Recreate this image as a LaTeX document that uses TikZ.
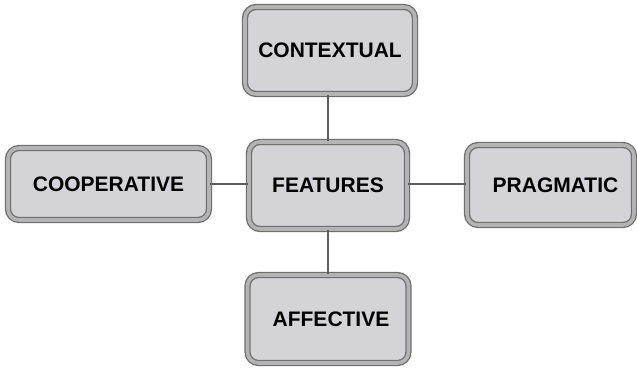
\documentclass[tikz,border=0pt]{standalone}
\usepackage{fontspec}
\setmainfont{Liberation Sans}
\usetikzlibrary{positioning,calc}
\definecolor{boxfill}{HTML}{D4D4D8}
\definecolor{boxedge}{HTML}{6E6E6E}
\definecolor{boxrim}{HTML}{B4B4B4}
\definecolor{linkgray}{HTML}{5E5E5E}

\begin{document}
\begin{tikzpicture}[
  x=1pt,y=-1pt,
  box/.style={
    draw=boxedge,line width=1.3pt,double=boxrim,double distance=3.6pt,
    fill=boxfill,rounded corners=11pt,inner sep=0pt,
    font=\fontsize{21}{25}\selectfont\bfseries
  },
  link/.style={draw=linkgray,line width=2.8pt}
]
\useasboundingbox (0,0) rectangle (637,367);

\node[box,minimum width=170pt,minimum height=87pt] (contextual) at (330,50.5) {CONTEXTUAL};
\node[box,minimum width=201pt,minimum height=72pt] (cooperative) at (108.5,184) {COOPERATIVE};
\node[box,minimum width=158pt,minimum height=87pt] (features) at (328,185.5) {FEATURES};
\node[box,minimum width=167pt,minimum height=80pt] (pragmatic) at (550.5,185) {\hspace*{10pt}PRAGMATIC};
\node[box,minimum width=161pt,minimum height=88pt] (affective) at (328,319) {\hspace*{6pt}AFFECTIVE};

\draw[link] (contextual.south -| features) -- (features.north);
\draw[link] (features.south) -- (affective.north -| features);
\draw[link] (cooperative.east) -- (cooperative.east -| features.west);
\draw[link] (features.east |- cooperative.east) -- (pragmatic.west |- cooperative.east);

\end{tikzpicture}
\end{document}
